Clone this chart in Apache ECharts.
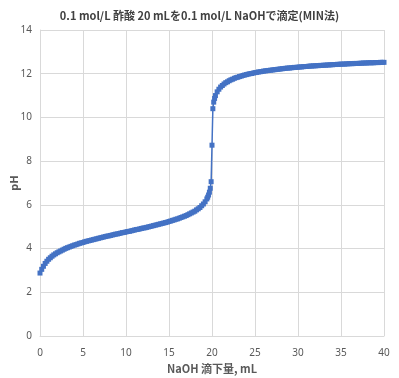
<!DOCTYPE html>
<html>
<head>
<meta charset="utf-8">
<script src="https://cdn.jsdelivr.net/npm/echarts@6/dist/echarts.min.js"></script>
<style>
  html, body { margin: 0; padding: 0; background: #fff; }
  #chart { width: 399px; height: 378px; }
</style>
</head>
<body>
<div id="chart"></div>
<script>
// NaOH volume (mL)
var volume = [
  0, 0.2, 0.4, 0.6, 0.8, 1.0, 1.2, 1.4, 1.6, 1.8, 2.0, 2.2, 2.4, 2.6, 2.8, 3.0, 3.2, 3.4, 3.6, 3.8,
  4.0, 4.2, 4.4, 4.6, 4.8, 5.0, 5.2, 5.4, 5.6, 5.8, 6.0, 6.2, 6.4, 6.6, 6.8, 7.0, 7.2, 7.4, 7.6, 7.8,
  8.0, 8.2, 8.4, 8.6, 8.8, 9.0, 9.2, 9.4, 9.6, 9.8, 10.0, 10.2, 10.4, 10.6, 10.8, 11.0, 11.2, 11.4, 11.6, 11.8,
  12.0, 12.2, 12.4, 12.6, 12.8, 13.0, 13.2, 13.4, 13.6, 13.8, 14.0, 14.2, 14.4, 14.6, 14.8, 15.0, 15.2, 15.4, 15.6, 15.8,
  16.0, 16.2, 16.4, 16.6, 16.8, 17.0, 17.2, 17.4, 17.6, 17.8, 18.0, 18.2, 18.4, 18.6, 18.8, 19.0, 19.2, 19.4,
  19.5, 19.6, 19.7, 19.8, 19.9, 20.0, 20.1, 20.2, 20.3,
  20.4, 20.6, 20.8, 21.0, 21.2, 21.4, 21.6, 21.8, 22.0, 22.2, 22.4, 22.6, 22.8, 23.0, 23.2, 23.4, 23.6, 23.8,
  24.0, 24.2, 24.4, 24.6, 24.8, 25.0, 25.2, 25.4, 25.6, 25.8, 26.0, 26.2, 26.4, 26.6, 26.8, 27.0, 27.2, 27.4, 27.6, 27.8,
  28.0, 28.2, 28.4, 28.6, 28.8, 29.0, 29.2, 29.4, 29.6, 29.8, 30.0, 30.2, 30.4, 30.6, 30.8, 31.0, 31.2, 31.4, 31.6, 31.8,
  32.0, 32.2, 32.4, 32.6, 32.8, 33.0, 33.2, 33.4, 33.6, 33.8, 34.0, 34.2, 34.4, 34.6, 34.8, 35.0, 35.2, 35.4, 35.6, 35.8,
  36.0, 36.2, 36.4, 36.6, 36.8, 37.0, 37.2, 37.4, 37.6, 37.8, 38.0, 38.2, 38.4, 38.6, 38.8, 39.0, 39.2, 39.4, 39.6, 39.8, 40.0
];
// pH
var pH = [
  2.88, 3.05, 3.19, 3.32, 3.42, 3.51, 3.58, 3.65, 3.71, 3.76, 3.81, 3.85, 3.89, 3.93, 3.97, 4.01, 4.04, 4.07, 4.10, 4.13,
  4.16, 4.18, 4.21, 4.24, 4.26, 4.28, 4.31, 4.33, 4.35, 4.37, 4.39, 4.41, 4.43, 4.45, 4.47, 4.49, 4.51, 4.53, 4.55, 4.57,
  4.58, 4.60, 4.62, 4.64, 4.66, 4.67, 4.69, 4.71, 4.73, 4.74, 4.76, 4.78, 4.79, 4.81, 4.83, 4.85, 4.87, 4.88, 4.90, 4.92,
  4.94, 4.95, 4.97, 4.99, 5.01, 5.03, 5.05, 5.07, 5.09, 5.11, 5.13, 5.15, 5.17, 5.19, 5.21, 5.24, 5.26, 5.29, 5.31, 5.34,
  5.36, 5.39, 5.42, 5.45, 5.48, 5.51, 5.55, 5.59, 5.63, 5.67, 5.71, 5.77, 5.82, 5.88, 5.96, 6.04, 6.14, 6.27,
  6.35, 6.45, 6.58, 6.76, 7.06, 8.73, 10.40, 10.70, 10.87,
  11.00, 11.17, 11.29, 11.39, 11.46, 11.53, 11.59, 11.63, 11.68, 11.72, 11.75, 11.79, 11.82, 11.84, 11.87, 11.89, 11.92, 11.94,
  11.96, 11.98, 12.00, 12.01, 12.03, 12.05, 12.06, 12.08, 12.09, 12.10, 12.12, 12.13, 12.14, 12.15, 12.16, 12.17, 12.18, 12.19, 12.20, 12.21,
  12.22, 12.23, 12.24, 12.25, 12.26, 12.26, 12.27, 12.28, 12.29, 12.29, 12.30, 12.31, 12.31, 12.32, 12.33, 12.33, 12.34, 12.35, 12.35, 12.36,
  12.36, 12.37, 12.37, 12.38, 12.38, 12.39, 12.39, 12.40, 12.40, 12.41, 12.41, 12.42, 12.42, 12.43, 12.43, 12.44, 12.44, 12.44, 12.45, 12.45,
  12.46, 12.46, 12.46, 12.47, 12.47, 12.47, 12.48, 12.48, 12.49, 12.49, 12.49, 12.50, 12.50, 12.50, 12.50, 12.51, 12.51, 12.51, 12.52, 12.52, 12.52
];

var points = [];
for (var i = 0; i < volume.length; i++) {
  points.push([volume[i], pH[i]]);
}

var chart = echarts.init(document.getElementById('chart'));
var labelColor = '#595959';
var gridColor = '#d9d9d9';
chart.setOption({
  animation: false,
  title: {
    text: '0.1 mol/L 酢酸 20 mLを0.1 mol/L NaOHで滴定(MIN法)',
    left: 'center',
    top: 5,
    textStyle: {
      fontFamily: '"Noto Sans CJK JP", "Noto Sans", sans-serif',
      fontSize: 11,
      fontWeight: 'bold',
      color: '#404040'
    }
  },
  grid: { left: 40, right: 15, top: 30, bottom: 42, outerBoundsMode: 'none' },
  xAxis: {
    type: 'value',
    min: 0,
    max: 40,
    interval: 5,
    name: 'NaOH 滴下量, mL',
    nameLocation: 'middle',
    nameGap: 27,
    nameMoveOverlap: false,
    nameTextStyle: {
      fontFamily: '"Noto Sans CJK JP", sans-serif',
      fontSize: 11,
      fontWeight: 'bold',
      color: labelColor
    },
    axisLine: { lineStyle: { color: gridColor } },
    axisTick: { show: false },
    axisLabel: { color: labelColor, fontSize: 10, margin: 12, fontFamily: '"Noto Sans", sans-serif' },
    splitLine: { show: true, lineStyle: { color: gridColor } }
  },
  yAxis: {
    type: 'value',
    min: 0,
    max: 14,
    interval: 2,
    name: 'pH',
    nameLocation: 'middle',
    nameGap: 20,
    nameMoveOverlap: false,
    nameTextStyle: {
      fontFamily: '"Noto Sans", sans-serif',
      fontSize: 11,
      fontWeight: 'bold',
      color: labelColor
    },
    axisLine: { show: true, lineStyle: { color: gridColor } },
    axisTick: { show: false },
    axisLabel: { color: labelColor, fontSize: 10, margin: 8, fontFamily: '"Noto Sans", sans-serif' },
    splitLine: { show: true, lineStyle: { color: gridColor } }
  },
  series: [{
    type: 'line',
    data: points,
    symbol: 'rect',
    symbolSize: 5,
    showAllSymbol: true,
    lineStyle: { color: '#4472C4', width: 1.5 },
    itemStyle: { color: '#4472C4' }
  }]
});
</script>
</body>
</html>
